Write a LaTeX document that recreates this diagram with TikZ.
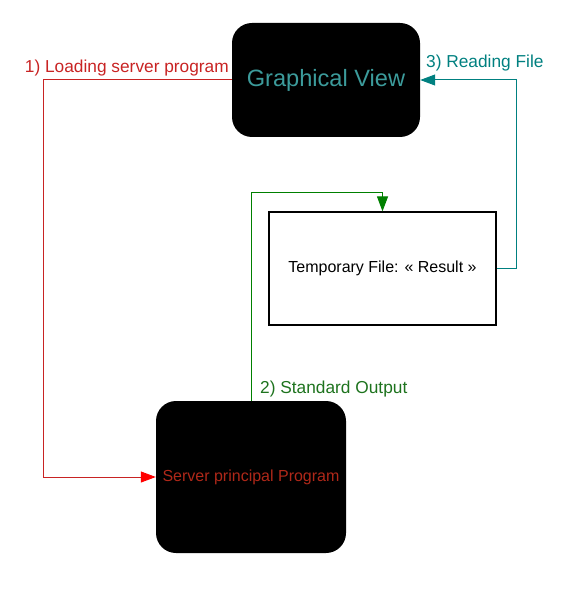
\documentclass[tikz,border=0pt]{standalone}
\usepackage{fontspec}
\setmainfont{Liberation Sans}
\usetikzlibrary{arrows.meta}

\definecolor{loadred}{RGB}{200,35,35}
\definecolor{progred}{RGB}{175,40,25}
\definecolor{readteal}{RGB}{0,128,128}
\definecolor{viewteal}{RGB}{60,155,155}
\definecolor{outgreen}{RGB}{0,128,0}
\definecolor{labelgreen}{RGB}{30,115,30}

\tikzstyle{block}=[fill=black, rounded corners=20pt, inner sep=0pt]
\tikzstyle{filebox}=[draw, line width=1.2pt, minimum width=227pt, minimum height=113pt, inner sep=0pt]
\tikzstyle{arrow}=[line width=1pt, -{Triangle[length=15pt, width=11pt]}]
\tikzstyle{label}=[inner sep=0pt, font=\fontsize{17.3}{20}\selectfont]

\begin{document}
\begin{tikzpicture}[x=1pt, y=-1pt]
      \useasboundingbox (0, 0) rectangle (577, 593);

      \node[block, minimum width=188pt, minimum height=114pt, text=viewteal,
            font=\fontsize{23.6}{26}\selectfont] (view) at (326, 80) {Graphical View};
      \node[block, minimum width=190pt, minimum height=152pt, text=progred,
            font=\fontsize{16}{19}\selectfont] (server) at (251, 477) {Server principal Program};
      \node[filebox, font=\fontsize{16}{19}\selectfont] (file) at (382.5, 268.5) {Temporary File: « Result »};

      \coordinate (loadturn) at (43, 80);

      \draw[arrow, loadred, -{Triangle[length=15pt, width=11pt, color=red]}]
            (view.west) -- (loadturn) |- (server.west);
      \draw[arrow, outgreen] (server.north) |- ([yshift=19pt]file.north) -- (file.north);
      \draw[arrow, readteal] (file.east) -- ++(20, 0) |- (view.east);

      \node[label, loadred, anchor=base east] (loadlabel) at (229, 73) {1) Loading server program};
      \node[label, labelgreen, anchor=base west] (outlabel) at (260, 393) {2) Standard Output};
      \node[label, readteal, anchor=base west] (readlabel) at (426, 68) {3) Reading File};
    \end{tikzpicture}
\end{document}
